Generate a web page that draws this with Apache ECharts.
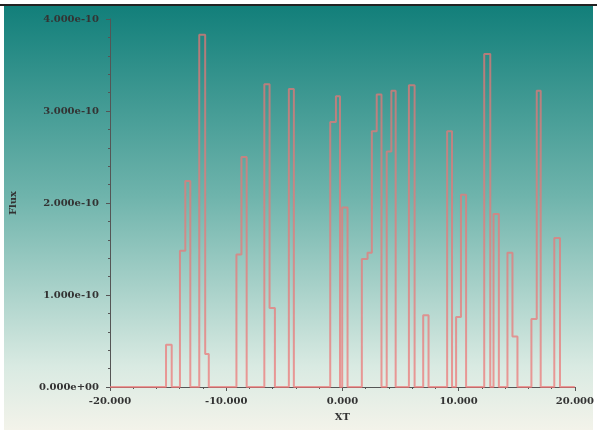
<!DOCTYPE html>
<html>
<head>
<meta charset="utf-8">
<script src="https://cdn.jsdelivr.net/npm/echarts@6/dist/echarts.min.js"></script>
<style>
  html, body { margin: 0; padding: 0; background: #fff; }
  #main { width: 597px; height: 430px; }
</style>
</head>
<body>
<div id="main"></div>
<script>
// histogram bins (only non-zero ones), x in XT units
var binLo = [-15.18, -13.98, -13.52, -12.32, -11.81, -9.12, -8.69, -6.72, -6.27, -4.61,
  -1.05, -0.56, -0.02, 1.67, 2.16, 2.53, 2.95, 3.81, 4.21, 5.72,
  6.95, 9.01, 9.78, 10.20, 12.20, 13.00, 14.20, 14.63, 16.26, 16.72, 18.23];
var binHi = [-14.69, -13.52, -13.09, -11.81, -11.50, -8.69, -8.24, -6.27, -5.81, -4.18,
  -0.56, -0.21, 0.44, 2.16, 2.53, 2.95, 3.36, 4.21, 4.58, 6.21,
  7.41, 9.43, 10.20, 10.64, 12.72, 13.46, 14.63, 15.06, 16.72, 17.06, 18.72];
var flux = [0.46e-10, 1.48e-10, 2.24e-10, 3.83e-10, 0.36e-10, 1.44e-10, 2.50e-10, 3.29e-10, 0.86e-10, 3.24e-10,
  2.88e-10, 3.16e-10, 1.95e-10, 1.39e-10, 1.46e-10, 2.78e-10, 3.18e-10, 2.56e-10, 3.22e-10, 3.28e-10,
  0.78e-10, 2.78e-10, 0.76e-10, 2.09e-10, 3.62e-10, 1.88e-10, 1.46e-10, 0.55e-10, 0.74e-10, 3.22e-10, 1.62e-10];
var xRange = [-20, 20];
var yRange = [0, 4e-10];

// step outline of the histogram
var pts = [[xRange[0], 0]];
for (var i = 0; i < flux.length; i++) {
  var joinPrev = i > 0 && binHi[i - 1] === binLo[i];
  var joinNext = i < flux.length - 1 && binHi[i] === binLo[i + 1];
  if (!joinPrev) pts.push([binLo[i], 0]);
  pts.push([binLo[i], flux[i]]);
  pts.push([binHi[i], flux[i]]);
  if (!joinNext) pts.push([binHi[i], 0]);
}
pts.push([xRange[1], 0]);

function expFmt(v) {
  var s = v.toExponential(3);
  return s.replace(/e([+-])(\d)$/, 'e$10$2');
}

var labelFont = { fontFamily: 'DejaVu Serif', fontSize: 10, fontWeight: 'bold', color: '#333' };

var chart = echarts.init(document.getElementById('main'));
var option = {
  animation: false,
  backgroundColor: 'transparent',
  graphic: [
    {
      type: 'rect', z: -100, silent: true,
      shape: { x: 4, y: 6, width: 589, height: 424 },
      style: {
        fill: new echarts.graphic.LinearGradient(0, 0, 0, 1, [
          { offset: 0, color: '#127f7a' },
          { offset: 0.45, color: '#6fb4ac' },
          { offset: 0.85, color: '#d9eae2' },
          { offset: 1, color: '#f3f3ea' }
        ])
      }
    },
    {
      type: 'line', z: -99, silent: true,
      shape: { x1: 0, y1: 5, x2: 597, y2: 5 },
      style: { stroke: '#222', lineWidth: 2 }
    }
  ],
  grid: { left: 108, right: 22, top: 19, bottom: 43 },
  xAxis: {
    type: 'value',
    min: xRange[0], max: xRange[1], interval: 10,
    name: 'XT', nameLocation: 'middle', nameGap: 25,
    nameTextStyle: labelFont,
    axisLine: { onZero: false, lineStyle: { color: '#555', width: 1 } },
    axisTick: { show: true, length: 4, lineStyle: { color: '#555' } },
    minorTick: { show: true, splitNumber: 5, length: 2, lineStyle: { color: '#555' } },
    splitLine: { show: false },
    axisLabel: Object.assign({ margin: 9, formatter: function (v) { return v.toFixed(3); } }, labelFont)
  },
  yAxis: {
    type: 'value',
    min: yRange[0], max: yRange[1], interval: 1e-10,
    name: 'Flux', nameLocation: 'middle', nameGap: 92,
    nameTextStyle: labelFont,
    axisLine: { show: true, onZero: false, lineStyle: { color: '#555', width: 1 } },
    axisTick: { show: true, length: 4, lineStyle: { color: '#555' } },
    minorTick: { show: true, splitNumber: 5, length: 2, lineStyle: { color: '#555' } },
    splitLine: { show: false },
    axisLabel: Object.assign({ margin: 11, formatter: expFmt }, labelFont)
  },
  series: [{
    type: 'line',
    data: pts,
    symbol: 'none',
    z: 5,
    lineStyle: { color: 'rgba(236,118,118,0.72)', width: 2 }
  }]
};
chart.setOption(option);
</script>
</body>
</html>
